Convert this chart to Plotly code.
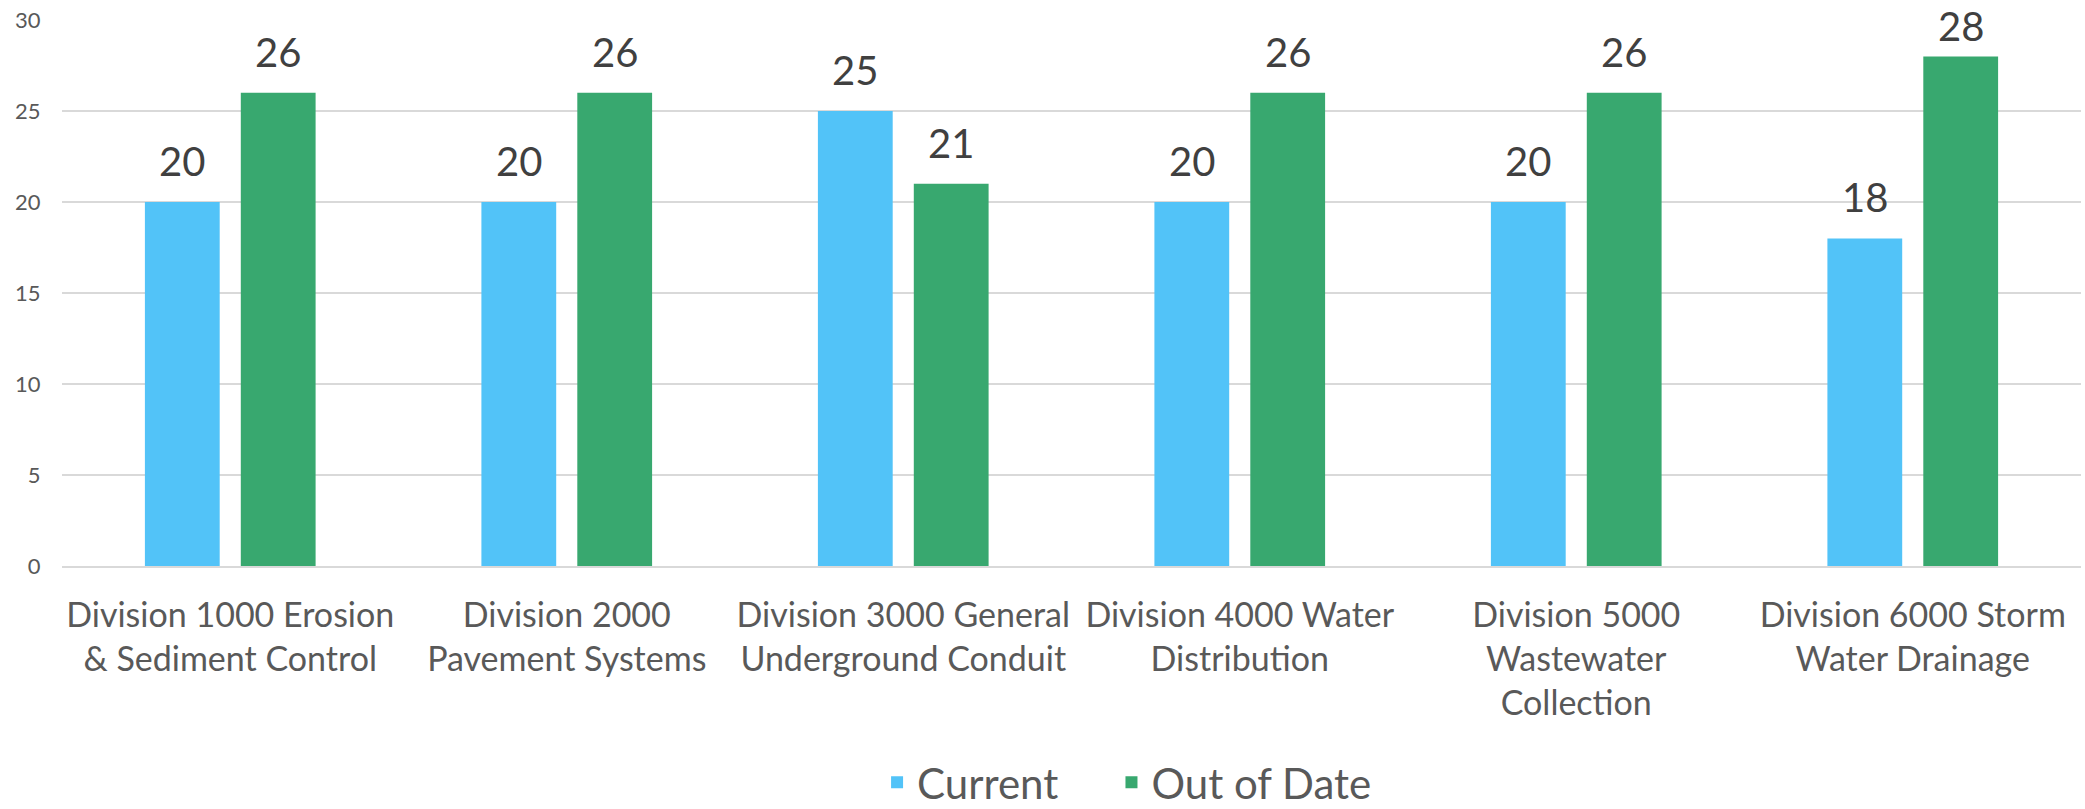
import plotly.graph_objects as go

categories = [
    "Division 1000 Erosion<br>& Sediment Control",
    "Division 2000<br>Pavement Systems",
    "Division 3000 General<br>Underground Conduit",
    "Division 4000 Water<br>Distribution",
    "Division 5000<br>Wastewater<br>Collection",
    "Division 6000 Storm<br>Water Drainage",
]
current = [20, 20, 25, 20, 20, 18]
out_of_date = [26, 26, 21, 26, 26, 28]
y_ticks = [0, 5, 10, 15, 20, 25, 30]

BLUE = "#52C3F8"
GREEN = "#38A86F"
FONT = "Lato"
Y_MAX = 30

fig = go.Figure()
fig.add_trace(go.Bar(name="Current", x=categories, y=current, marker_color=BLUE,
                     marker_line_width=0, legend="legend"))
fig.add_trace(go.Bar(name="Out of Date", x=categories, y=out_of_date, marker_color=GREEN,
                     marker_line_width=0, legend="legend2"))

# data labels (kept inside the chart area near the top, as the original does)
for vals, shift in ((current, -48), (out_of_date, 48)):
    for c, v in zip(categories, vals):
        ys = 15 if v <= Y_MAX - 3 else 4
        fig.add_annotation(x=c, y=v, text=str(v), showarrow=False, xshift=shift,
                           yanchor="bottom", yshift=ys,
                           font=dict(family=FONT, size=40, color="#404040"))

legend_style = dict(orientation="h", xanchor="left", y=-0.334, yanchor="top",
                    font=dict(family=FONT, size=42, color="#595959"),
                    bgcolor="rgba(0,0,0,0)")

fig.update_layout(
    width=2085, height=809,
    margin=dict(l=62, r=4, t=20, b=243, autoexpand=False),
    paper_bgcolor="white", plot_bgcolor="white",
    barmode="group", bargap=0.43, bargroupgap=0.22,
    font=dict(family=FONT, color="#595959"),
    showlegend=True,
    legend=dict(x=0.4037, **legend_style),
    legend2=dict(x=0.5198, **legend_style),
)
fig.update_xaxes(showgrid=False, showline=True, linecolor="#d9d9d9", linewidth=2,
                 automargin=False,
                 ticks="outside", ticklen=18, tickcolor="rgba(0,0,0,0)",
                 tickfont=dict(family=FONT, size=34, color="#595959"))
fig.update_yaxes(range=[0, Y_MAX], tickvals=y_ticks, showgrid=True, gridcolor="#d9d9d9",
                 gridwidth=2, zeroline=False, showline=False, automargin=False,
                 ticks="outside", ticklen=16, tickcolor="rgba(0,0,0,0)",
                 tickfont=dict(family=FONT, size=22, color="#595959"))

fig.write_html("out.html", config={"displayModeBar": False},
               post_script="document.body.style.margin='0';document.body.style.overflow='hidden';")
